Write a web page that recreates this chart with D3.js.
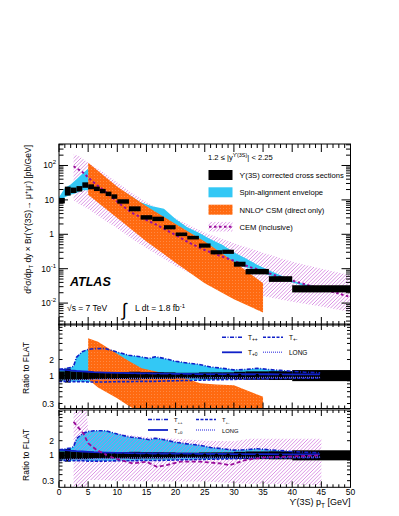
<!DOCTYPE html>
<html><head><meta charset="utf-8">
<script src="https://cdn.jsdelivr.net/npm/d3@7"></script>
<style>
body{margin:0;background:#fff}
svg{display:block}
text{font-family:"Liberation Sans",Arial,Helvetica,sans-serif;fill:#000}
</style>
</head><body><svg id="c" width="399" height="516"></svg>
<script>
// ---------------- data ----------------
const binEdges = [0,1,2,3,4,5,6,7,8,9,10,12,14,16,18,20,22,24,26,28,30,32,36,40,50];
const xsec     = [9.5,18,19,21,27,24,21,18,15,12.5,9,5.5,3.1,2.8,1.6,1.0,0.8,0.47,0.3,0.31,0.135,0.082,0.05,0.026];
const xsecErr  = [0.2,0.35,0.2,0.2,0.2,0.18,0.16,0.16,0.16,0.16,0.16,0.18,0.16,0.16,0.15,0.13,0.13,0.15,0.15,0.15,0.18,0.2,0.21,0.27];

// spin-alignment envelope (main panel, pb/GeV)
const envPt   = [0,1,2,3,4,5,6,8,10,12,14,16,18,20,22,24,26,28,30,32,34,36,38,40,42,45];
const envHi   = [12,22,28,40,58,80,55,35,22,14,8.5,6.5,5.5,2.8,1.6,1.1,0.72,0.5,0.3,0.2,0.13,0.09,0.065,0.045,0.036,0.028];
const envLo   = [7.5,12,14,16,19,19,16,12.5,8.5,5.5,3.3,2.2,1.5,0.95,0.65,0.45,0.32,0.22,0.15,0.11,0.085,0.065,0.05,0.04,0.032,0.025];

// NNLO* CSM band (main panel)
const csmPt = [5,10,15,20,25,30,35];
const csmHi = [120,24,6.5,2.0,0.62,0.16,0.038];
const csmLo = [14,3.0,0.62,0.15,0.038,0.013,0.0053];

// CEM central line and band (main panel)
const cemPt  = [2.5,4,5,6.5,8.5,10.5,12.5,15,17,20,22.5,25,27.5,30,32.5,35,37.5,40,42.5,45,47.5,50];
const cemVal = [95,65,45,27,14.5,7.5,4.2,2.6,1.8,0.95,0.55,0.35,0.24,0.17,0.115,0.085,0.06,0.045,0.034,0.026,0.02,0.015];
const cemBandPt = [2.5,3.5,5,7.5,10,12.5,15,20,25,30,35,40,45,50];
const cemHi = [210,185,120,65,32,16,8.5,2.9,1.1,0.55,0.29,0.16,0.1,0.065];
const cemLo = [10,7.5,5.5,2.8,1.5,0.74,0.4,0.12,0.045,0.025,0.016,0.011,0.008,0.0055];

// spin-alignment ratios to FLAT
const spinPt = [0,1,2,2.5,3,4,5,6,8,10,12,14,15.5,16.5,18,20,22,24,26,28,30,32,34,36,38,40,42,44.8];
const tPP  = [1.3,1.35,1.42,1.5,2.2,2.8,3.1,3.2,3.2,2.75,2.4,2.25,2.1,2.25,2.1,1.85,1.72,1.62,1.45,1.37,1.28,1.3,1.37,1.3,1.25,1.2,1.16,1.13];
const tPM  = [0.78,0.78,0.77,0.77,0.77,0.77,0.76,0.76,0.76,0.77,0.77,0.78,0.78,0.78,0.79,0.8,0.81,0.82,0.83,0.84,0.85,0.86,0.87,0.88,0.88,0.89,0.89,0.9];
const tP0  = [1.3,1.28,1.25,1.24,1.22,1.2,1.18,1.16,1.14,1.12,1.11,1.1,1.1,1.09,1.09,1.08,1.08,1.07,1.07,1.07,1.06,1.06,1.06,1.06,1.05,1.05,1.05,1.05];
const tLong= [0.82,0.82,0.83,0.83,0.83,0.84,0.84,0.85,0.86,0.87,0.88,0.88,0.89,0.89,0.89,0.9,0.9,0.9,0.91,0.91,0.91,0.91,0.92,0.92,0.92,0.92,0.92,0.92];

// CSM ratio to FLAT (middle panel)
const csmRPt = [5,6.7,9.9,12.2,14.2,18.2,22.2,24.2,27,30,35];
const csmRHi = [5.0,4.3,2.6,1.82,1.37,1.1,0.85,0.72,0.68,0.66,0.4];
const csmRLo = [0.85,0.6,0.38,0.26,0.2,0.13,0.09,0.08,0.06,0.05,0.03];

// CEM ratio to FLAT (bottom panel)
const cemRPt = [2.5,4.2,5,6.5,8.7,10.5,12.7,15,16.8,18.5,20.8,24.2,27.6,29.3,32,35,40,45];
const cemR   = [4.9,2.8,1.77,1.28,0.94,0.8,0.68,0.74,0.58,0.63,0.74,0.74,0.68,0.63,0.8,0.9,0.95,1.0];
const cemRBandPt = [2.5,4.7,5,7,10,15,20,25,30,32.7,35,40,45];
const cemRHi = [20,10,3.3,3.2,2.8,2.4,2.2,2.0,1.95,2.2,2.2,2.2,2.2];
const cemRLo = [0.1,0.1,0.31,0.31,0.3,0.29,0.29,0.29,0.27,0.26,0.26,0.25,0.24];

const xTicks = [0,5,10,15,20,25,30,35,40,45,50];
const mainYTicks = [0.01,0.1,1,10,100];
const ratioYLabels = [0.3,1,2];

// ---------------- layout ----------------
const svg = d3.select("#c");
const X0 = 59, X1 = 350.5;
const x = d3.scaleLinear([0,50],[X0,X1]);
const yMain = d3.scaleLog([Math.pow(10,-2.637), Math.pow(10,2.625)],[325,144]);
const yMid  = d3.scaleLog([0.242, 9.25],[408.5,324]);
const yBot  = d3.scaleLog([0.219, 8.6],[487.3,410]);

const C_CYAN = "#33c8f5", C_OR = "#ff6a10", C_CEM = "#9a0d9a", C_HATCH = "#cf70dc", C_BLUE = "#1020c8";

const defs = svg.append("defs");
const opat = defs.append("pattern").attr("id","orng").attr("patternUnits","userSpaceOnUse")
  .attr("width",3).attr("height",3);
opat.append("rect").attr("width",3).attr("height",3).attr("fill",C_OR);
opat.append("rect").attr("x",1).attr("y",1).attr("width",0.8).attr("height",0.8).attr("fill","#ff9a60");

function clip(id, y0, y1){
  defs.append("clipPath").attr("id",id).append("rect").attr("x",X0).attr("y",y0).attr("width",X1-X0).attr("height",y1-y0);
}
clip("cm",144,325); clip("cr",324,408.5); clip("cb",410,487.3);

let hid = 0;
// draw a hatched region (diagonal "/" lines) clipped to a path string
function hatchPath(g, dstr, x0, y0, x1, y1){
  const id = "h"+(hid++);
  defs.append("clipPath").attr("id",id).append("path").attr("d",dstr);
  const hg = g.append("g").attr("clip-path","url(#"+id+")");
  const step = 3.6;
  for(let s = x0 - (y1-y0); s < x1 + 2; s += step){
    hg.append("line").attr("x1",s).attr("y1",y1).attr("x2",s+(y1-y0)).attr("y2",y0)
      .attr("stroke",C_HATCH).attr("stroke-width",0.75);
  }
}
function bandPath(pts, lo, hi, y){
  const d = pts.map((p,i)=>({p, lo:lo[i], hi:hi[i]}));
  return d3.area().x(v=>x(v.p)).y0(v=>y(v.lo)).y1(v=>y(v.hi))(d);
}
function band(g, pts, lo, hi, y, fill){
  g.append("path").attr("fill",fill).attr("d", bandPath(pts, lo, hi, y));
}
function line(g, pts, vals, y, color, w, dash){
  const d = pts.map((p,i)=>({p, v:vals[i]}));
  g.append("path").datum(d).attr("fill","none").attr("stroke",color).attr("stroke-width",w)
   .attr("stroke-dasharray",dash||null)
   .attr("d", d3.line().x(v=>x(v.p)).y(v=>y(v.v)));
}
function dataBoxes(g, y, ratio){
  const d = xsec.map((v,i)=>({a:binEdges[i], b:binEdges[i+1], v: ratio?1:v, e:xsecErr[i]}));
  g.selectAll(null).data(d).enter().append("rect")
   .attr("x",v=>x(v.a)).attr("width",v=>x(v.b)-x(v.a))
   .attr("y",v=>y(v.v*(1+v.e))).attr("height",v=>y(v.v/(1+v.e))-y(v.v*(1+v.e)))
   .attr("fill","#000");
  return d;
}
function spinLines(g, y){
  line(g, spinPt, tPM, y, C_BLUE, 1.6, "3,1.5");
  line(g, spinPt, tLong, y, "#6a6ae8", 1.4, "1,1");
  line(g, spinPt, tP0, y, C_BLUE, 1.8);
  line(g, spinPt, tPP, y, C_BLUE, 1.6, "4,1.5,1,1.5");
}

// ---------- main panel ----------
const gm = svg.append("g").attr("clip-path","url(#cm)");
hatchPath(gm, bandPath(cemBandPt, cemLo, cemHi, yMain), X0, 144, X1, 325);
band(gm, envPt, envLo, envHi, yMain, C_CYAN);
band(gm, csmPt, csmLo, csmHi, yMain, "url(#orng)");
line(gm, cemPt, cemVal, yMain, C_CEM, 2, "2.5,2.5");
dataBoxes(gm, yMain, false);

// ---------- middle panel ----------
const gr = svg.append("g").attr("clip-path","url(#cr)");
band(gr, spinPt, tPM, tPP, yMid, C_CYAN);
band(gr, csmRPt, csmRLo, csmRHi, yMid, "url(#orng)");
let dd = dataBoxes(gr, yMid, true);
spinLines(gr, yMid);
gr.selectAll(null).data(dd).enter().append("circle")
  .attr("cx",v=>x((v.a+v.b)/2)).attr("cy",yMid(1)).attr("r",1.8).attr("fill","#000");

// ---------- bottom panel ----------
const gb = svg.append("g").attr("clip-path","url(#cb)");
band(gb, spinPt, tPM, tPP, yBot, C_CYAN);
hatchPath(gb, bandPath(cemRBandPt, cemRLo, cemRHi, yBot), X0, 400, X1, 495);
dd = dataBoxes(gb, yBot, true);
spinLines(gb, yBot);
line(gb, cemRPt, cemR, yBot, C_CEM, 1.8, "4,2.5");
gb.selectAll(null).data(dd).enter().append("circle")
  .attr("cx",v=>x((v.a+v.b)/2)).attr("cy",yBot(1)).attr("r",1.8).attr("fill","#000");

// ---------- frames & ticks ----------
function frame(y0,y1,y,majors,minors,xMaj,xMin,yMaj,yMin){
  const g = svg.append("g").attr("stroke","#000").attr("stroke-width",1).attr("fill","none");
  g.append("rect").attr("x",X0).attr("y",y0).attr("width",X1-X0).attr("height",y1-y0);
  for(let i=0;i<=50;i++){
    const L = i%5===0 ? xMaj : xMin, xx = x(i);
    g.append("line").attr("x1",xx).attr("x2",xx).attr("y1",y1).attr("y2",y1-L);
    g.append("line").attr("x1",xx).attr("x2",xx).attr("y1",y0).attr("y2",y0+L);
  }
  majors.forEach(v=>{const yy=y(v); if(yy<y0||yy>y1) return;
    g.append("line").attr("x1",X0).attr("x2",X0+yMaj).attr("y1",yy).attr("y2",yy);
    g.append("line").attr("x1",X1).attr("x2",X1-yMaj).attr("y1",yy).attr("y2",yy);});
  minors.forEach(v=>{const yy=y(v); if(yy<y0||yy>y1) return;
    g.append("line").attr("x1",X0).attr("x2",X0+yMin).attr("y1",yy).attr("y2",yy);
    g.append("line").attr("x1",X1).attr("x2",X1-yMin).attr("y1",yy).attr("y2",yy);});
}
const logMinors = [];
for(let e=-3;e<=2;e++) for(let k=2;k<=9;k++) logMinors.push(k*Math.pow(10,e));
frame(144,325,yMain,[0.001,0.01,0.1,1,10,100],logMinors,8,4,9,4.5);
const rMaj=[1], rMin=[0.3,0.4,0.5,0.6,0.7,0.8,0.9,2,3,4,5,6,7,8,9];
frame(324,408.5,yMid,rMaj,rMin,6,3,7,3.5);
frame(410,487.3,yBot,rMaj,rMin,6,3,7,3.5);

// ---------- tick labels ----------
const T = svg.append("g").attr("font-size",8.5);
xTicks.forEach(v=>T.append("text").attr("x",x(v)).attr("y",494.5).attr("text-anchor","middle").text(v));
mainYTicks.forEach(v=>{
  const e = Math.round(Math.log10(v)), yy = yMain(v)+3;
  if(e===0){T.append("text").attr("x",54).attr("y",yy).attr("text-anchor","end").text("1");}
  else if(e===1){T.append("text").attr("x",54).attr("y",yy).attr("text-anchor","end").text("10");}
  else{
    const t = T.append("text").attr("x",56).attr("y",yy).attr("text-anchor","end");
    t.append("tspan").text("10");
    t.append("tspan").attr("dy",-4).attr("font-size",6).text(e);
  }
});
ratioYLabels.forEach(v=>{
  T.append("text").attr("x",54).attr("y",yMid(v)+3).attr("text-anchor","end").text(v);
  T.append("text").attr("x",54).attr("y",yBot(v)+3).attr("text-anchor","end").text(v);
});

// axis titles
const yt = svg.append("text").attr("transform","translate(31,145) rotate(-90)").attr("text-anchor","end").attr("font-size",8.5);
yt.append("tspan").text("d");
yt.append("tspan").attr("dy",-3.5).attr("font-size",6).text("2");
yt.append("tspan").attr("dy",3.5).text("σ/dp");
yt.append("tspan").attr("dy",2).attr("font-size",6).text("T");
yt.append("tspan").attr("dy",-2).text(" dy × Br(ϒ(3S)→ μ");
yt.append("tspan").attr("dy",-3.5).attr("font-size",6).text("+");
yt.append("tspan").attr("dy",3.5).text("μ");
yt.append("tspan").attr("dy",-3.5).attr("font-size",6).text("-");
yt.append("tspan").attr("dy",3.5).text(") [pb/GeV]");

svg.append("text").attr("transform","translate(29,368) rotate(-90)").attr("text-anchor","middle").attr("font-size",8.5).text("Ratio to FLAT");
svg.append("text").attr("transform","translate(29,455) rotate(-90)").attr("text-anchor","middle").attr("font-size",8.5).text("Ratio to FLAT");

const xt = svg.append("text").attr("x",350.5).attr("y",505).attr("text-anchor","end").attr("font-size",9);
xt.append("tspan").text("ϒ(3S) p");
xt.append("tspan").attr("dy",2.5).attr("font-size",6.5).text("T");
xt.append("tspan").attr("dy",-2.5).text(" [GeV]");

// ATLAS and energy labels
svg.append("text").attr("x",70).attr("y",286).attr("font-size",12.5).attr("font-weight","bold").attr("font-style","italic").text("ATLAS");
svg.append("text").attr("x",67).attr("y",311).attr("font-size",8.5).text("√s = 7 TeV");
svg.append("text").attr("x",122).attr("y",315.5).attr("font-size",18).text("∫");
const lum = svg.append("text").attr("x",135).attr("y",311).attr("font-size",8.5);
lum.append("tspan").text("L dt = 1.8 fb");
lum.append("tspan").attr("dy",-3.5).attr("font-size",6).text("-1");

// main legend
const lg = svg.append("g").attr("font-size",7.6);
const hdr = lg.append("text").attr("x",208).attr("y",160);
hdr.append("tspan").text("1.2 ≤ |y");
hdr.append("tspan").attr("dy",-3.5).attr("font-size",5.5).text("ϒ(3S)");
hdr.append("tspan").attr("dy",3.5).text("| < 2.25");
const legItems = [
  {t:"ϒ(3S) corrected cross sections", y:175},
  {t:"Spin-alignment envelope", y:192.3},
  {t:"NNLO* CSM (direct only)", y:209.7},
  {t:"CEM (inclusive)", y:226.7}
];
const fills = ["#000", C_CYAN, "url(#orng)", null];
legItems.forEach((d,i)=>{
  if(fills[i]) lg.append("rect").attr("x",208.5).attr("y",d.y-5).attr("width",24).attr("height",10).attr("fill",fills[i]);
  else hatchPath(lg, `M208.5,${d.y-5}h24v10h-24Z`, 208.5, d.y-5, 232.5, d.y+5);
  lg.append("text").attr("x",239.5).attr("y",d.y+2.8).text(d.t);
});
lg.append("line").attr("x1",209).attr("x2",232).attr("y1",226.7).attr("y2",226.7)
  .attr("stroke",C_CEM).attr("stroke-width",2).attr("stroke-dasharray","2.5,2.5");

// ratio legends
function spinLegend(xa, xb, ya, yb, fs){
  const g = svg.append("g");
  const items = [
    {x:xa, y:ya, lab:"++", dash:"4,1.5,1,1.5", c:C_BLUE, w:1.6},
    {x:xb, y:ya, lab:"+-", dash:"3,1.5", c:C_BLUE, w:1.6},
    {x:xa, y:yb, lab:"+0", dash:null, c:C_BLUE, w:1.8},
    {x:xb, y:yb, lab:"LONG", dash:"1,1", c:"#6a6ae8", w:1.4}
  ];
  items.forEach(d=>{
    g.append("line").attr("x1",d.x).attr("x2",d.x+20).attr("y1",d.y).attr("y2",d.y)
     .attr("stroke",d.c).attr("stroke-width",d.w).attr("stroke-dasharray",d.dash);
    const t = g.append("text").attr("x",d.x+26).attr("y",d.y+2.5).attr("font-size",fs);
    if(d.lab==="LONG") t.text("LONG");
    else { t.append("tspan").text("T"); t.append("tspan").attr("dy",1.5).attr("font-size",fs*0.75).text(d.lab); }
  });
}
spinLegend(222, 263, 337.3, 352.3, 6.5);
spinLegend(148, 196, 419.5, 430, 5.8);
</script></body></html>
